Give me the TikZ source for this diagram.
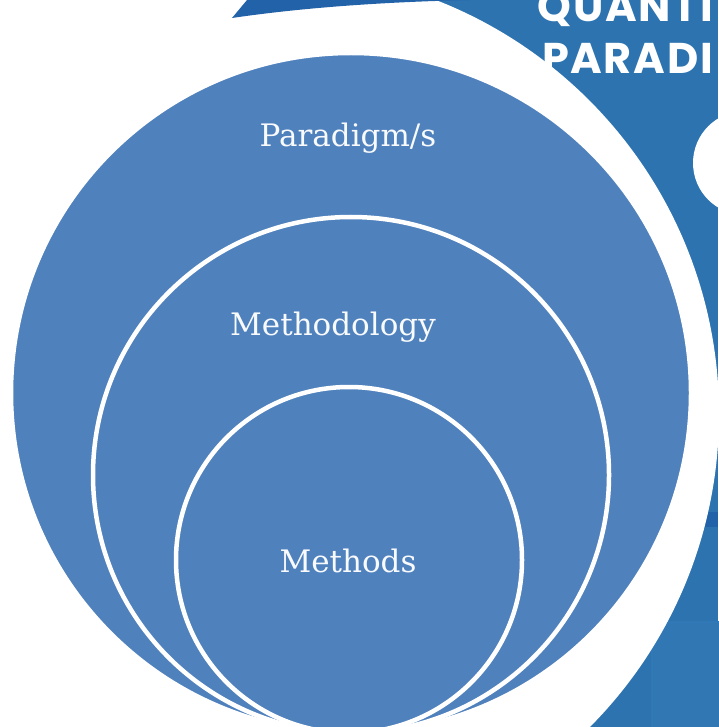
\documentclass[tikz,border=0pt]{standalone}
\usepackage{fontspec}
\newfontfamily\labelfont{DejaVu Serif}
\newfontfamily\headfont{Poppins}[LetterSpace=4]
\definecolor{backblue}{HTML}{2C73B0}
\definecolor{bannerblue}{HTML}{2262A8}
\definecolor{ringblue}{HTML}{4F81BD}
\definecolor{photoblue}{HTML}{3179B6}
\tikzset{
  ring/.style={fill=ringblue,draw=white,line width=4.5pt},
  lbl/.style={anchor=base,inner sep=0pt,text=white!96!ringblue,
    font=\labelfont\fontsize{31}{31}\selectfont},
  head/.style={anchor=base east,inner sep=0pt,text=white,
    font=\headfont\bfseries\fontsize{43}{43}\selectfont}
}
\begin{document}
\begin{tikzpicture}[x=1pt,y=-1pt]
  \useasboundingbox (0,0) rectangle (718,727);
  % slide background
  \fill[backblue] (0,0) rectangle (718,727);
  \draw[photoblue,fill=photoblue!70!backblue,line width=2pt,rounded corners=14pt]
    (652,622) rectangle (760,760);
  \fill[bannerblue] (700,512) rectangle (718,527);
  \fill[white] (275,414) circle (444);
  \fill[white] (0,0) rectangle (240,80);
  \fill[bannerblue] (232,18) -- (247,0) -- (470,0)
    .. controls (380,2) and (300,8) .. (232,18) -- cycle;
  \fill[white] (745,163) circle (52);
  \draw
    (713,22) node[head] (quanti){QUANTI}
    (713,74) node[head] (paradi){PARADI};
  % nested circles, tangent at the bottom
  \draw[ring] (351,393) circle (340);
  \draw[ring] (351,475) circle (258);
  \draw[ring] (349,560) circle (173);
  \draw
    (348,147) node[lbl] (paradigm){Paradigm/s}
    (333,335) node[lbl] (methodology){Methodology}
    (348,572) node[lbl] (methods){Methods};
\end{tikzpicture}
\end{document}
